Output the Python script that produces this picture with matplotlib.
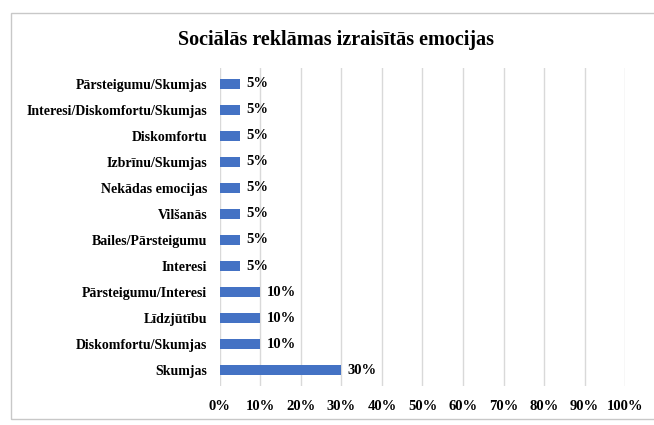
import matplotlib.pyplot as plt
from matplotlib.patches import Rectangle
from matplotlib.ticker import FuncFormatter

plt.rcParams['font.family'] = ['Liberation Serif', 'DejaVu Serif']

categories = [
    'Pārsteigumu/Skumjas',
    'Interesi/Diskomfortu/Skumjas',
    'Diskomfortu',
    'Izbrīnu/Skumjas',
    'Nekādas emocijas',
    'Vilšanās',
    'Bailes/Pārsteigumu',
    'Interesi',
    'Pārsteigumu/Interesi',
    'Līdzjūtību',
    'Diskomfortu/Skumjas',
    'Skumjas',
]
values = [5, 5, 5, 5, 5, 5, 5, 5, 10, 10, 10, 30]

# top-to-bottom order for barh
cats = categories[::-1]
vals = values[::-1]

fig = plt.figure(figsize=(6.54, 4.25), dpi=100)
ax = fig.add_axes([0.336, 0.092, 0.62, 0.748])

ax.barh(range(len(cats)), vals, height=0.38, color='#4472C4', zorder=3)
for i, v in enumerate(vals):
    ax.text(v + 1.5, i, f'{v}%', va='center', ha='left',
            fontsize=10.5, fontweight='bold')

ax.set_yticks(range(len(cats)))
ax.set_yticklabels(cats, fontsize=10, fontweight='bold')
ax.set_xlim(0, 100)
ax.set_ylim(-0.6, len(cats) - 0.4)
ax.set_xticks(range(0, 101, 10))
ax.xaxis.set_major_formatter(FuncFormatter(lambda x, p: f'{int(x)}%'))
for lab in ax.get_xticklabels():
    lab.set_fontweight('bold')
    lab.set_fontsize(10.5)

ax.grid(axis='x', color='#d9d9d9', linewidth=1, zorder=0)
for s in ax.spines.values():
    s.set_visible(False)
ax.tick_params(length=0)
ax.tick_params(axis='x', pad=10)
ax.tick_params(axis='y', pad=9)

fig.text(0.514, 0.905, 'Sociālās reklāmas izraisītās emocijas',
         ha='center', va='center', fontsize=14.5, fontweight='bold')

# chart frame
fig.patches.append(Rectangle((0.017, 0.015), 1.0, 0.955,
                             transform=fig.transFigure, fill=False,
                             edgecolor='#c8c8c8', linewidth=1))

fig.savefig('out.png', dpi=100)
